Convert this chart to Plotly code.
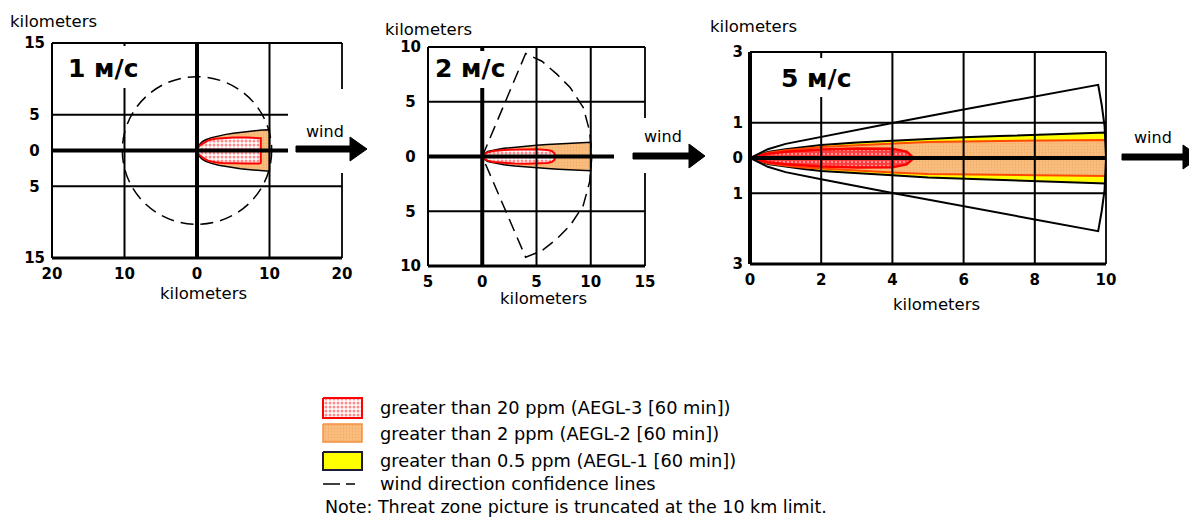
import plotly.graph_objects as go

W, H = 1189, 517

# ------------------------------------------------------------------ data
speed_labels = ["1 м/с", "2 м/с", "5 м/с"]
axis_title = "kilometers"
wind_label = "wind"

# Panel 1 : 1 m/s
p1_x_ticks = [-20, -10, 0, 10, 20]
p1_x_labels = ["20", "10", "0", "10", "20"]
p1_y_ticks = [15, 5, 0, -5, -15]
p1_y_labels = ["15", "5", "0", "5", "15"]
p1_aegl2_x = [0, 0.25, 0.7, 1.2, 2, 3, 4, 5, 6, 7, 8, 9, 10]
p1_aegl2_hw = [0, 0.7, 1.2, 1.5, 1.8, 2.05, 2.25, 2.4, 2.55, 2.65, 2.75, 2.85, 2.9]
p1_aegl3_x = [0, 0.25, 0.5, 1, 1.6, 2.5, 3.5, 5, 7, 8.6, 8.8]
p1_aegl3_hw = [0, 0.55, 0.8, 1.15, 1.45, 1.65, 1.75, 1.8, 1.8, 1.8, 1.7]
p1_conf_radius = [10.3]

# Panel 2 : 2 m/s
p2_x_ticks = [-5, 0, 5, 10, 15]
p2_x_labels = ["5", "0", "5", "10", "15"]
p2_y_ticks = [10, 5, 0, -5, -10]
p2_y_labels = ["10", "5", "0", "5", "10"]
p2_aegl2_x = [0, 0.2, 0.5, 1, 1.5, 2, 3, 4, 5, 6, 7, 8, 9, 10]
p2_aegl2_hw = [0, 0.25, 0.45, 0.58, 0.67, 0.75, 0.86, 0.95, 1.03, 1.1, 1.16, 1.22, 1.27, 1.3]
p2_aegl3_x = [0, 0.2, 0.5, 1, 2, 3, 4, 5, 6, 6.4, 6.65, 6.75]
p2_aegl3_hw = [0, 0.22, 0.38, 0.5, 0.6, 0.64, 0.66, 0.66, 0.6, 0.5, 0.3, 0]
p2_conf_x = [0, 4.0, 5.5, 6.9, 8.1, 9.3, 9.9, 10.1, 9.9, 9.3, 8.1, 6.9, 5.5, 4.0, 0]
p2_conf_y = [0, 9.4, 8.7, 7.5, 6.3, 4.5, 2.3, 0, -2.3, -4.5, -6.3, -7.5, -8.6, -9.2, 0]

# Panel 3 : 5 m/s
p3_x_ticks = [0, 2, 4, 6, 8, 10]
p3_x_labels = ["0", "2", "4", "6", "8", "10"]
p3_y_ticks = [3, 1, 0, -1, -3]
p3_y_labels = ["3", "1", "0", "1", "3"]
p3_aegl1_x = [0, 0.5, 1, 1.5, 2, 3, 4, 5, 6, 7, 8, 9, 10]
p3_aegl1_hw = [0, 0.17, 0.25, 0.31, 0.37, 0.44, 0.49, 0.55, 0.59, 0.62, 0.65, 0.69, 0.72]
p3_aegl2_x = [0, 0.5, 1, 1.5, 2, 3, 4, 5, 6, 7, 8, 9, 10]
p3_aegl2_hw = [0, 0.15, 0.22, 0.27, 0.31, 0.36, 0.41, 0.45, 0.47, 0.48, 0.49, 0.5, 0.51]
p3_aegl3_x = [0, 0.5, 1, 2, 3, 4, 4.4, 4.6]
p3_aegl3_hw = [0, 0.12, 0.18, 0.24, 0.27, 0.26, 0.18, 0]
p3_conf_x = [0, 0.5, 1, 2, 4, 6, 8, 9.78, 9.88, 9.96, 10, 9.96, 9.88, 9.78, 8, 6, 4, 2, 1, 0.5, 0]
p3_conf_y = [0, 0.25, 0.4, 0.6, 0.99, 1.37, 1.74, 2.07, 1.5, 0.9, 0, -0.9, -1.5, -2.07, -1.74, -1.37, -0.99, -0.6, -0.4, -0.25, 0]

legend_labels = [
    "greater than 20 ppm (AEGL-3 [60 min])",
    "greater than 2 ppm (AEGL-2 [60 min])",
    "greater than 0.5 ppm (AEGL-1 [60 min])",
    "wind direction confidence lines",
]
note_text = "Note: Threat zone picture is truncated at the 10 km limit."

# ------------------------------------------------------------------ styles
FONT = "DejaVu Sans"
RED_PAT = dict(shape=".", bgcolor="#ffffff", fgcolor="#ff1a1a", size=4, solidity=0.45)
RED_PAT_DENSE = dict(shape=".", bgcolor="#ff3b3b", fgcolor="#ffffff", size=4, solidity=0.25)
ORANGE_PAT = dict(shape=".", bgcolor="#f9bf80", fgcolor="#ef9e52", size=3, solidity=0.3)
YELLOW = "#ffff00"


def px(x):
    return x / W


def py(y):
    return 1 - y / H


def poly(xs, hw):
    return list(xs) + list(xs[::-1]), list(hw) + [-h for h in hw[::-1]]


fig = go.Figure()

panels = [
    dict(n="", xdom=(52, 342), ydom=(43, 258), xr=[-20, 20], yr=[-15, 15],
         xt=p1_x_ticks, xl=p1_x_labels, yt=p1_y_ticks, yl=p1_y_labels),
    dict(n="2", xdom=(428, 645), ydom=(47, 266), xr=[-5, 15], yr=[-10, 10],
         xt=p2_x_ticks, xl=p2_x_labels, yt=p2_y_ticks, yl=p2_y_labels),
    dict(n="3", xdom=(750, 1106), ydom=(52, 264), xr=[0, 10], yr=[-3, 3],
         xt=p3_x_ticks, xl=p3_x_labels, yt=p3_y_ticks, yl=p3_y_labels),
]

layout_axes = {}
for p in panels:
    n = p["n"]
    ylab = [l if len(l) > 1 else l + "\u00a0" for l in p["yl"]]
    if n == "3":
        ylab = p["yl"]
    layout_axes["xaxis" + n] = dict(
        domain=[px(p["xdom"][0]), px(p["xdom"][1])], range=p["xr"],
        anchor="y" + n, tickvals=p["xt"], ticktext=p["xl"],
        showgrid=False, zeroline=False, showline=False, ticks="",
        ticklabelstandoff=5, automargin=False,
        tickfont=dict(family=FONT, size=15, color="black", weight="bold"),
        fixedrange=True)
    layout_axes["yaxis" + n] = dict(
        domain=[py(p["ydom"][1]), py(p["ydom"][0])], range=p["yr"],
        anchor="x" + n, tickvals=p["yt"], ticktext=ylab,
        showgrid=False, zeroline=False, showline=False, ticks="",
        ticklabelstandoff=6, automargin=False,
        tickfont=dict(family=FONT, size=15, color="black", weight="bold"),
        fixedrange=True)

# legend axis (pixel-like coordinates in the legend area)
layout_axes["xaxis4"] = dict(domain=[px(300), px(860)], range=[300, 860], anchor="y4",
                             visible=False, fixedrange=True)
layout_axes["yaxis4"] = dict(domain=[0, py(385)], range=[517, 385], anchor="x4",
                             visible=False, fixedrange=True)


def zone(xs, hw, xa, ya, pattern=None, fillcolor=None, lc="black", lw=1.5):
    X, Y = poly(xs, hw)
    kw = dict(x=X, y=Y, xaxis=xa, yaxis=ya, mode="lines", fill="toself",
              line=dict(color=lc, width=lw), hoverinfo="skip", showlegend=False)
    if pattern:
        kw["fillpattern"] = pattern
        kw["fillcolor"] = pattern["bgcolor"]
    else:
        kw["fillcolor"] = fillcolor
    fig.add_trace(go.Scatter(**kw))


# Panel 1 zones
zone(p1_aegl2_x, p1_aegl2_hw, "x", "y", pattern=ORANGE_PAT, lc="black", lw=1.5)
zone(p1_aegl3_x, p1_aegl3_hw, "x", "y", pattern=RED_PAT, lc="#ff0000", lw=2)
# Panel 2 zones
zone(p2_aegl2_x, p2_aegl2_hw, "x2", "y2", pattern=ORANGE_PAT, lc="black", lw=1.5)
zone(p2_aegl3_x, p2_aegl3_hw, "x2", "y2", pattern=RED_PAT, lc="#ff0000", lw=2)
fig.add_trace(go.Scatter(x=p2_conf_x, y=p2_conf_y, xaxis="x2", yaxis="y2", mode="lines",
                         line=dict(color="black", width=1.5, dash="13px,7px"),
                         hoverinfo="skip", showlegend=False))
# Panel 3 zones
zone(p3_aegl1_x, p3_aegl1_hw, "x3", "y3", fillcolor=YELLOW, lc="black", lw=2)
zone(p3_aegl2_x, p3_aegl2_hw, "x3", "y3", pattern=ORANGE_PAT, lc="#ff4a00", lw=2)
zone(p3_aegl3_x, p3_aegl3_hw, "x3", "y3", pattern=RED_PAT_DENSE, lc="#ff0000", lw=2.5)
fig.add_trace(go.Scatter(x=p3_conf_x, y=p3_conf_y, xaxis="x3", yaxis="y3", mode="lines",
                         line=dict(color="black", width=2),
                         hoverinfo="skip", showlegend=False))

shapes = []

# confidence circle panel 1
r = p1_conf_radius[0]
shapes.append(dict(type="circle", xref="x", yref="y", x0=-r, x1=r, y0=-r, y1=r,
                   line=dict(color="black", width=1.5, dash="13px,7px"), layer="above"))


def line(xref, yref, x0, y0, x1, y1, w):
    shapes.append(dict(type="line", xref=xref, yref=yref, x0=x0, y0=y0, x1=x1, y1=y1,
                       line=dict(color="black", width=w), layer="above"))


for p in panels:
    n = p["n"]
    xa, ya = "x" + n, "y" + n
    xr, yr = p["xr"], p["yr"]
    for v in p["xt"]:
        if xr[0] < v < xr[1]:
            line(xa, ya, v, yr[0], v, yr[1], 4 if v == 0 else 2)
    for v in p["yt"]:
        if yr[0] < v < yr[1]:
            line(xa, ya, xr[0], v, xr[1], v, 4 if v == 0 else 2)
    # borders
    line(xa + " domain", ya + " domain", 0, 1, 1, 1, 1.8)
    line(xa + " domain", ya + " domain", 1, 0, 1, 1, 1.8)
    line(xa + " domain", ya + " domain", 0, 0, 0, 1, 4 if n == "3" else 2)
    line(xa + " domain", ya + " domain", 0, 0, 1, 0, 3)


def white_box(x0, y0, x1, y1):
    shapes.append(dict(type="rect", xref="paper", yref="paper", x0=px(x0), x1=px(x1),
                       y0=py(y1), y1=py(y0), fillcolor="white", line=dict(width=0),
                       layer="above"))


# boxes behind the speed labels and wind labels
white_box(60, 46, 145, 88)
white_box(431, 51, 509, 88)
white_box(775, 58, 858, 97)
white_box(288, 89, 372, 173)
white_box(614, 118, 705, 173)

# wind arrows (decoration, in page pixels)
for (x0, xb, xt, yc) in [(296, 350, 367, 149), (633, 689, 705, 156), (1122, 1183, 1200, 157)]:
    path = (f"M{px(x0)},{py(yc - 3)} L{px(xb)},{py(yc - 3)} L{px(xb)},{py(yc - 12)} "
            f"L{px(xt)},{py(yc)} L{px(xb)},{py(yc + 12)} L{px(xb)},{py(yc + 3)} "
            f"L{px(x0)},{py(yc + 3)} Z")
    shapes.append(dict(type="path", xref="paper", yref="paper", path=path,
                       fillcolor="black", line=dict(color="black", width=1), layer="above"))

# legend swatches on the legend axis
sw_x = [323, 362, 362, 323, 323]
for (y0, y1, kw) in [
    (398, 418, dict(fillpattern=RED_PAT, fillcolor="white", line=dict(color="#ff0000", width=2))),
    (424, 442, dict(fillpattern=ORANGE_PAT, fillcolor=ORANGE_PAT["bgcolor"],
                    line=dict(color="#f39040", width=1.5))),
    (452, 470, dict(fillcolor=YELLOW, line=dict(color="#1c1c3c", width=2))),
]:
    fig.add_trace(go.Scatter(x=sw_x, y=[y0, y0, y1, y1, y0], xaxis="x4", yaxis="y4",
                             mode="lines", fill="toself", hoverinfo="skip",
                             showlegend=False, **kw))
fig.add_trace(go.Scatter(x=[323, 360], y=[484, 484], xaxis="x4", yaxis="y4", mode="lines",
                         line=dict(color="black", width=1.5, dash="17px,6px,9px,100px"),
                         hoverinfo="skip", showlegend=False))

annotations = []


def text(x, y, s, size, bold=False, anchor="center"):
    annotations.append(dict(x=px(x), y=py(y), xref="paper", yref="paper", text=s,
                            showarrow=False, xanchor=anchor, yanchor="middle",
                            font=dict(family=FONT, size=size, color="black",
                                      weight="bold" if bold else "normal")))


# axis titles
for (x, y) in [(203, 293), (543, 298), (936, 304)]:
    text(x, y, axis_title, 16.5)
for (x, y) in [(53, 22), (428, 29), (753, 26)]:
    text(x, y, axis_title, 16.5)
# speed labels
for (x, y), s in zip([(103, 69), (470, 68), (816, 78)], speed_labels):
    text(x, y, s, 25, bold=True)
# wind labels
for (x, y) in [(325, 131), (663, 136), (1153, 137)]:
    text(x, y, wind_label, 16)
# legend text
for y, s in zip([407, 433, 460, 483], legend_labels):
    text(378, y, s, 17.8, anchor="left")
text(323, 507, note_text, 17.5, anchor="left")

fig.update_layout(width=W, height=H,
                  margin=dict(l=0, r=0, t=0, b=0, pad=0, autoexpand=False),
                  paper_bgcolor="white", plot_bgcolor="white", showlegend=False,
                  shapes=shapes, annotations=annotations,
                  font=dict(family=FONT, color="black"), **layout_axes)

fig.write_html("out.html", config={"displayModeBar": False, "staticPlot": True},
               post_script="document.body.style.margin='0';document.body.style.overflow='hidden';")
